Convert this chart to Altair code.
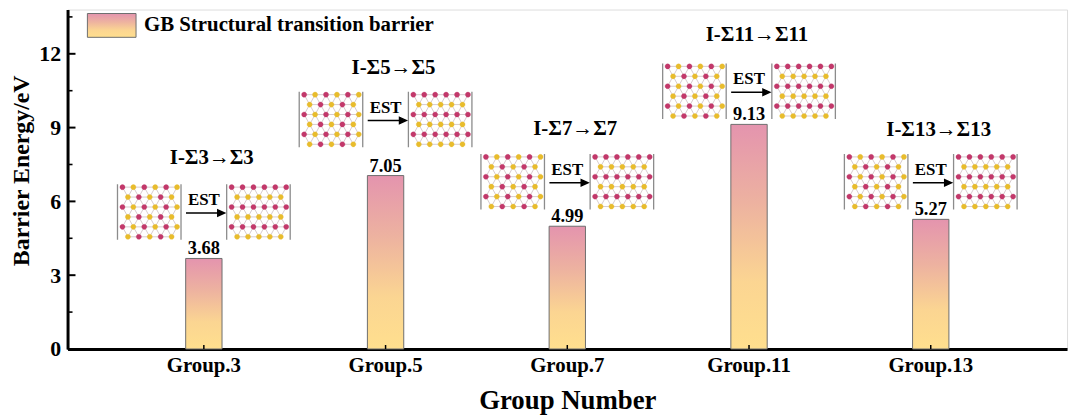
import altair as alt
import pandas as pd

# ---------------- data ----------------
groups = ["Group.3", "Group.5", "Group.7", "Group.11", "Group.13"]
barriers = [3.68, 7.05, 4.99, 9.13, 5.27]
transitions = ["I-Σ3→Σ3", "I-Σ5→Σ5", "I-Σ7→Σ7", "I-Σ11→Σ11", "I-Σ13→Σ13"]
inset_levels = [5.57, 9.33, 6.80, 10.48, 6.80]     # energy level of inset centre
title_levels = [7.75, 11.42, 8.96, 12.76, 8.92]    # energy level of inset title
major_ticks = [0, 3, 6, 9, 12]
minor_ticks = [1.5, 4.5, 7.5, 10.5, 13.5]
legend_label = ["GB Structural transition barrier"]

# ---------------- layout / style ----------------
W, H = 1007, 342
Y_MAX = 13.8
FONT = "Liberation Serif"

bars_df = pd.DataFrame({"group": groups, "barrier": barriers})
inset_df = pd.DataFrame({"group": groups, "level": inset_levels})
title_df = pd.DataFrame({"group": groups, "level": title_levels, "label": transitions})
major_df = pd.DataFrame({"level": major_ticks})
minor_df = pd.DataFrame({"level": minor_ticks})
legend_df = pd.DataFrame({"label": legend_label})

gradient = {
    "gradient": "linear", "x1": 0, "x2": 0, "y1": 1, "y2": 0,
    "stops": [
        {"offset": 0.0, "color": "#FFDF8E"},
        {"offset": 0.3, "color": "#FBD592"},
        {"offset": 0.65, "color": "#EDB2A0"},
        {"offset": 1.0, "color": "#E494AE"},
    ],
}

x_enc = alt.X(
    "group:N", sort=groups, title="Group Number",
    scale=alt.Scale(paddingInner=0.8, paddingOuter=0.65),
    axis=alt.Axis(
        labelFont=FONT, labelFontSize=21, labelFontWeight="bold", labelColor="black",
        labelPadding=6, labelAngle=0, ticks=False, tickSize=0,
        domainColor="black", domainWidth=3,
        titleFont=FONT, titleFontSize=27, titleFontWeight="bold", titleColor="black",
        titleY=60, titleBaseline="alphabetic",
    ),
)

def y_enc(field):
    return alt.Y(
        f"{field}:Q", title="Barrier Energy/eV",
        scale=alt.Scale(domain=[0, Y_MAX], nice=False, zero=True),
        axis=alt.Axis(
            values=major_ticks, grid=False, ticks=False, tickSize=0,
            labelFont=FONT, labelFontSize=22, labelFontWeight="bold", labelColor="black",
            labelPadding=7, domainColor="black", domainWidth=3,
            titleFont=FONT, titleFontSize=24, titleFontWeight="bold", titleColor="black",
            titleX=-46, titleY=162, titleAngle=270, titleAlign="center",
            titleBaseline="middle",
        ),
    )

bars = alt.Chart(bars_df).mark_bar(
    color=gradient, stroke="#6e6e6e", strokeWidth=1
).encode(x=x_enc, y=y_enc("barrier"))

values = alt.Chart(bars_df).mark_text(
    font=FONT, fontSize=18.5, fontWeight="bold", color="black",
    baseline="alphabetic", dy=-4
).encode(x=x_enc, y=y_enc("barrier"), text=alt.Text("barrier:Q", format=".2f"))

# inward axis ticks
major = alt.Chart(major_df).mark_rule(color="black", strokeWidth=2).encode(
    x=alt.value(0), x2=alt.value(8), y=y_enc("level"))
minor = alt.Chart(minor_df).mark_rule(color="black", strokeWidth=1.6).encode(
    x=alt.value(0), x2=alt.value(5), y=y_enc("level"))
xticks = alt.Chart(bars_df).mark_rule(color="black", strokeWidth=1.5).encode(
    x=x_enc, y=alt.value(H), y2=alt.value(H - 4))

# ---------------- inset structure glyphs ----------------
U = 90.0                   # glyph unit in px -> size = (2U)^2
GLYPH_SIZE = (2 * U) ** 2
BOX_W, BOX_H, GAP = 64, 56, 46
R = 2.6

def f(v):
    return f"{v / U:.4f}"

def lattice(x0, ordered):
    pts = []
    for i in range(6):
        y = -BOX_H / 2 + 3 + i * 10
        off = 5 + (5.5 if i % 2 else 0)
        j = 0
        while True:
            x = x0 + off + j * 11
            if x > x0 + BOX_W - 3:
                break
            pink = (i % 2 == 0) if ordered else ((i + j) % 2 == 0)
            pts.append((i, x, y, pink))
            j += 1
    return pts

line_path, edge_path, pink_path, yellow_path = [], [], [], []
for x0, ordered in [(-GAP / 2 - BOX_W, False), (GAP / 2, True)]:
    pts = lattice(x0, ordered)
    for (i1, xa, ya, _) in pts:
        for (i2, xb, yb, _) in pts:
            if (i2 == i1 and 0 < xb - xa < 12) or (i2 == i1 + 1 and abs(xb - xa) < 7):
                line_path.append(f"M{f(xa)},{f(ya)}L{f(xb)},{f(yb)}")
    for (_, x, y, pink) in pts:
        c = f"M{f(x - R)},{f(y)}a{f(R)},{f(R)} 0 1,0 {f(2 * R)},0a{f(R)},{f(R)} 0 1,0 {f(-2 * R)},0"
        (pink_path if pink else yellow_path).append(c)
    for xe in (x0, x0 + BOX_W):
        edge_path.append(f"M{f(xe)},{f(-BOX_H / 2)}L{f(xe)},{f(BOX_H / 2)}")

arrow_path = (f"M{f(-18)},{f(1)}L{f(15)},{f(1)}"
              f"M{f(14)},{f(-2.2)}L{f(21)},{f(1)}L{f(14)},{f(4.2)}Z")

def glyph(path, filled, color, sw):
    kw = dict(shape="".join(path) if isinstance(path, list) else path,
              size=GLYPH_SIZE, opacity=1, filled=filled)
    if filled:
        kw.update(fill=color, stroke=color, strokeWidth=sw)
    else:
        kw.update(color=color, strokeWidth=sw)
    return alt.Chart(inset_df).mark_point(**kw).encode(x=x_enc, y=y_enc("level"))

g_lines = glyph(line_path, False, "#c4b4b8", 0.7)
g_edges = glyph(edge_path, False, "#8c8c8c", 1.3)
g_pink = glyph(pink_path, True, "#C2386A", 0.3)
g_yellow = glyph(yellow_path, True, "#E8BC2C", 0.3)
g_arrow = glyph(arrow_path, True, "black", 1.4)

est = alt.Chart(inset_df).mark_text(
    text="EST", font=FONT, fontSize=17, fontWeight="bold", color="black",
    baseline="middle", dy=-12
).encode(x=x_enc, y=y_enc("level"))

titles = alt.Chart(title_df).mark_text(
    font=FONT, fontSize=21, fontWeight="bold", color="black",
    baseline="middle", dx=8
).encode(x=x_enc, y=y_enc("level"), text="label:N")

# ---------------- legend ----------------
leg_rect = alt.Chart(legend_df).mark_rect(
    color=gradient, stroke="#6e6e6e", strokeWidth=1
).encode(x=alt.value(20), x2=alt.value(69), y=alt.value(4), y2=alt.value(28))
leg_text = alt.Chart(legend_df).mark_text(
    font=FONT, fontSize=21, fontWeight="bold", color="black",
    align="left", baseline="middle"
).encode(x=alt.value(77), y=alt.value(16), text="label:N")

chart = alt.layer(
    bars, xticks, major, minor, values,
    g_lines, g_edges, g_pink, g_yellow, g_arrow, est, titles,
    leg_rect, leg_text,
).properties(
    width=W, height=H,
    autosize=alt.AutoSizeParams(type="none"),
    padding={"left": 60, "top": 0, "right": 5, "bottom": 68},
).configure_view(
    stroke="black", strokeWidth=2
).configure(background="white")

chart.save("out.html", embed_options={"renderer": "svg", "actions": False})
